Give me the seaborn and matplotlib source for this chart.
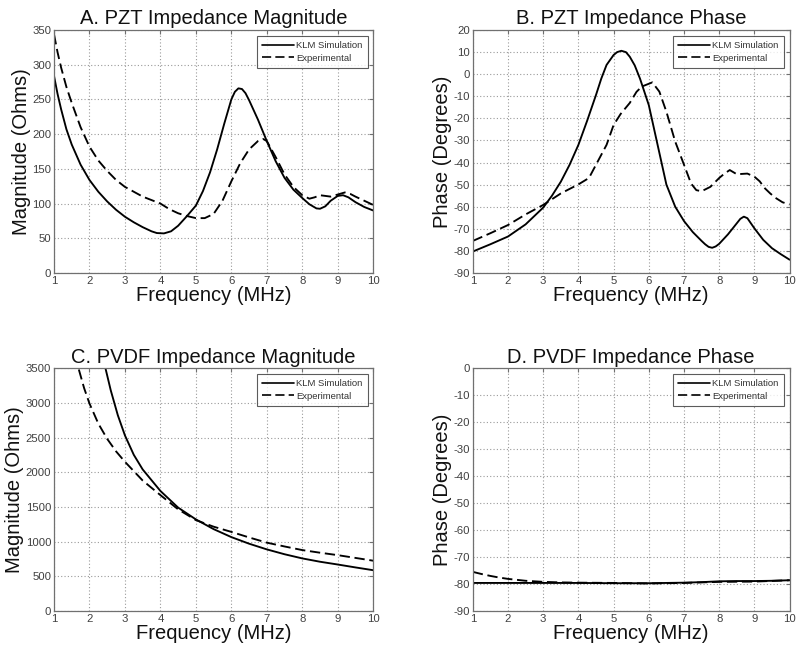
import numpy as np
import pandas as pd
import matplotlib
matplotlib.use("Agg")
import matplotlib.pyplot as plt
import seaborn as sns

# ---------------- data ----------------
# A. PZT impedance magnitude
a_sim_f = [1, 1.1, 1.2, 1.35, 1.5, 1.75, 2, 2.25, 2.5, 2.75, 3, 3.25, 3.5, 3.75, 3.9, 4.1, 4.3, 4.5, 4.75, 5, 5.2, 5.4, 5.6, 5.8, 6, 6.1, 6.2, 6.3, 6.4, 6.5, 6.75, 7, 7.25, 7.5, 7.75, 8, 8.2, 8.4, 8.5, 8.65, 8.8, 9, 9.15, 9.3, 9.5, 9.75, 10]
a_sim_v = [284, 258, 236, 207, 185, 156, 134, 117, 103, 91, 81, 73, 66, 60, 57.5, 57, 60, 68, 82, 97, 118, 145, 178, 215, 250, 261, 266, 265, 259, 249, 221, 190, 161, 137, 120, 108, 99, 93, 92.5, 96, 104, 111, 112, 109, 102, 95, 90]
a_exp_f = [1, 1.1, 1.2, 1.35, 1.5, 1.75, 2, 2.25, 2.5, 2.75, 3, 3.5, 4, 4.25, 4.5, 4.75, 5, 5.25, 5.5, 5.75, 6, 6.25, 6.5, 6.75, 6.9, 7, 7.25, 7.5, 7.75, 8, 8.2, 8.35, 8.5, 8.65, 8.8, 9, 9.2, 9.35, 9.5, 9.75, 10]
a_exp_v = [344, 318, 296, 268, 245, 210, 182, 162, 147, 134, 124, 110, 100, 92, 86, 82, 79, 79, 85, 104, 132, 158, 178, 190, 193, 190, 167, 142, 124, 112, 107, 109, 112, 111, 110, 113, 116, 114, 110, 104, 98]

# B. PZT impedance phase
b_sim_f = [1, 1.5, 2, 2.5, 3, 3.25, 3.5, 3.75, 4, 4.25, 4.5, 4.65, 4.8, 5, 5.1, 5.22, 5.35, 5.46, 5.6, 5.75, 6, 6.25, 6.5, 6.75, 7, 7.25, 7.5, 7.6, 7.7, 7.8, 7.9, 8, 8.25, 8.5, 8.6, 8.7, 8.8, 9, 9.25, 9.5, 9.75, 10]
b_sim_v = [-80.3, -77, -73.5, -68, -60.4, -55, -48.7, -41, -32, -21, -9.4, -2, 4.2, 8.7, 10, 10.6, 10, 7.9, 4, -2, -14, -32, -50, -60, -66.5, -71.5, -75.5, -77, -78.2, -78.6, -78, -76.8, -72.5, -67.5, -65.5, -64.5, -65.2, -69.8, -75, -78.8, -81.5, -84]
b_exp_f = [1, 1.5, 2, 2.5, 3, 3.5, 4, 4.3, 4.5, 4.8, 5, 5.2, 5.46, 5.65, 5.8, 6.1, 6.3, 6.5, 6.75, 7, 7.2, 7.35, 7.5, 7.75, 8, 8.15, 8.3, 8.5, 8.8, 9, 9.15, 9.3, 9.45, 9.6, 9.8, 10]
b_exp_v = [-75.5, -72, -68.3, -63.5, -59.2, -54, -49.9, -47, -41, -32, -23, -18, -13, -8, -5.6, -3.7, -7.9, -17, -30.5, -41, -49.5, -52.5, -53, -51, -47, -45, -43.4, -45.3, -45, -46.4, -48.5, -51.7, -54, -56, -58, -59]

# C. PVDF impedance magnitude
c_sim_f = [2.45, 2.6, 2.8, 3, 3.25, 3.5, 4, 4.5, 5, 5.5, 6, 6.5, 7, 7.5, 8, 8.5, 9, 9.5, 10]
c_sim_v = [3500, 3180, 2820, 2530, 2250, 2040, 1730, 1490, 1320, 1180, 1065, 970, 888, 818, 758, 710, 670, 628, 588]
c_exp_f = [1.7, 1.85, 2, 2.25, 2.5, 2.75, 3, 3.5, 4, 4.5, 5, 5.5, 6, 6.5, 7, 7.5, 8, 8.5, 9, 9.5, 10]
c_exp_v = [3480, 3210, 2990, 2700, 2480, 2300, 2150, 1880, 1670, 1465, 1310, 1215, 1140, 1060, 985, 930, 878, 840, 805, 765, 725]

# D. PVDF impedance phase
d_sim_f = [1, 2, 3, 4, 5, 6, 7, 7.5, 8, 8.5, 9, 9.5, 10]
d_sim_v = [-79.6, -79.6, -79.6, -79.6, -79.7, -79.7, -79.5, -79.3, -79.0, -78.9, -78.9, -78.8, -78.6]
d_exp_f = [1, 1.25, 1.5, 1.75, 2, 2.5, 3, 3.5, 4, 5, 6, 7, 8, 9, 10]
d_exp_v = [-75.5, -76.3, -77.0, -77.6, -78.1, -78.8, -79.2, -79.4, -79.5, -79.6, -79.8, -79.6, -79.2, -79.1, -78.6]

titles = ["A. PZT Impedance Magnitude", "B. PZT Impedance Phase",
          "C. PVDF Impedance Magnitude", "D. PVDF Impedance Phase"]
ylabels = ["Magnitude (Ohms)", "Phase (Degrees)", "Magnitude (Ohms)", "Phase (Degrees)"]
xlabel = "Frequency (MHz)"
series_names = ["KLM Simulation", "Experimental"]
x_ticks = list(range(1, 11))
y_ticks = [list(range(0, 351, 50)), list(range(-90, 21, 10)),
           list(range(0, 3501, 500)), list(range(-90, 1, 10))]

panels = [(a_sim_f, a_sim_v, a_exp_f, a_exp_v),
          (b_sim_f, b_sim_v, b_exp_f, b_exp_v),
          (c_sim_f, c_sim_v, c_exp_f, c_exp_v),
          (d_sim_f, d_sim_v, d_exp_f, d_exp_v)]

# ---------------- style ----------------
sns.set_theme(style="white")
plt.rcParams['font.family'] = ['Liberation Sans', 'DejaVu Sans']
plt.rcParams['axes.unicode_minus'] = False

fig = plt.figure(figsize=(8.0, 6.53), dpi=100)
rects = [(0.0675, 0.582, 0.399, 0.372), (0.591, 0.582, 0.396, 0.372),
         (0.0675, 0.0643, 0.399, 0.372), (0.591, 0.0643, 0.396, 0.372)]

frame_col = "#707070"
for i, (rect, (sf, sv, ef, ev)) in enumerate(zip(rects, panels)):
    ax = fig.add_axes(rect)
    df = pd.concat([
        pd.DataFrame({"f": sf, "v": sv, "s": series_names[0]}),
        pd.DataFrame({"f": ef, "v": ev, "s": series_names[1]}),
    ])
    sns.lineplot(data=df, x="f", y="v", style="s", style_order=series_names,
                 dashes={series_names[0]: "", series_names[1]: (5.5, 2.5)},
                 color="black", linewidth=1.35, ax=ax, legend=True, estimator=None, sort=False)
    for ln in ax.get_lines():
        ln.set_solid_joinstyle("round")
        ln.set_dash_joinstyle("round")
    yt = y_ticks[i]
    ax.set_xlim(1, 10)
    ax.set_ylim(yt[0], yt[-1])
    ax.set_xticks(x_ticks)
    ax.set_yticks(yt)
    ax.grid(True, linestyle=(0, (1, 2)), color="#9a9a9a", linewidth=0.8)
    ax.tick_params(direction="in", length=3, width=0.8, colors=frame_col,
                   labelsize=8.2, labelcolor="#404040", top=True, right=True, pad=2)
    for sp in ax.spines.values():
        sp.set_color(frame_col)
        sp.set_linewidth(0.9)
    ax.set_title(titles[i], fontsize=14.5, color="#111111", pad=4)
    ax.set_xlabel(xlabel, fontsize=14.5, color="#111111", labelpad=0)
    ax.set_ylabel(ylabels[i], fontsize=14.5, color="#111111", labelpad=1)
    leg = ax.legend(loc="upper right", fontsize=6.8, frameon=True, fancybox=False,
                    handlelength=3.4, handletextpad=0.2, borderpad=0.55,
                    labelspacing=0.4, borderaxespad=0.6)
    leg.get_frame().set_edgecolor("#333333")
    leg.get_frame().set_linewidth(0.8)
    for t in leg.get_texts():
        t.set_color("#333333")
    for ln in leg.get_lines():
        ln.set_linewidth(1.2)

fig.savefig("out.png", dpi=100, facecolor="white")
